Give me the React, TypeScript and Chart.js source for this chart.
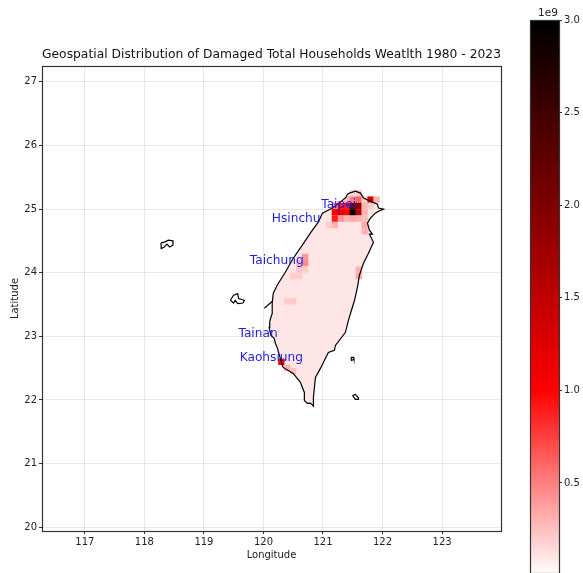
import React, { useEffect, useRef } from "react";
import { Chart, registerables } from "chart.js";

Chart.register(...registerables);

const FONT = "'DejaVu Sans', sans-serif";

const coastLon = [121.444, 121.545, 121.63, 121.68, 121.83, 121.915, 121.932, 122.016, 121.932, 121.88, 121.797, 121.747, 121.78, 121.83, 121.78, 121.848, 121.764, 121.68, 121.612, 121.579, 121.53, 121.478, 121.427, 121.377, 121.209, 121.192, 121.09, 120.957, 120.873, 120.839, 120.839, 120.788, 120.738, 120.687, 120.687, 120.62, 120.5, 120.33, 120.283, 120.23, 120.2, 120.18, 120.125, 120.095, 120.105, 120.125, 120.147, 120.147, 120.165, 120.23, 120.367, 120.5, 120.653, 120.787, 120.92, 120.99, 121.158, 121.29, 121.39, 121.41, 121.444];
const coastLat = [25.252, 25.283, 25.252, 25.173, 25.11, 25.079, 25.016, 25.0, 24.968, 24.937, 24.858, 24.78, 24.669, 24.606, 24.606, 24.48, 24.307, 24.15, 23.961, 23.772, 23.567, 23.41, 23.252, 23.063, 22.858, 22.78, 22.748, 22.496, 22.354, 22.039, 21.903, 21.95, 21.945, 21.992, 22.118, 22.276, 22.417, 22.512, 22.654, 22.827, 22.89, 22.969, 23.016, 23.142, 23.23, 23.3, 23.36, 23.52, 23.677, 23.803, 24.008, 24.228, 24.433, 24.622, 24.795, 24.937, 25.016, 25.11, 25.189, 25.236, 25.252];

const kinmenLon = [118.278, 118.35, 118.4, 118.48, 118.48, 118.423, 118.379, 118.333, 118.283, 118.278];
const kinmenLat = [24.469, 24.485, 24.512, 24.501, 24.433, 24.406, 24.449, 24.406, 24.381, 24.469];
const penghuLon = [119.443, 119.499, 119.566, 119.583, 119.679, 119.657, 119.566, 119.527, 119.499, 119.443];
const penghuLat = [23.567, 23.646, 23.672, 23.594, 23.567, 23.524, 23.515, 23.567, 23.524, 23.567];
const spurLon = [120.015, 120.149];
const spurLat = [23.441, 23.551];
const greenLon = [121.47, 121.512, 121.52, 121.478, 121.47];
const greenLat = [22.669, 22.669, 22.638, 22.622, 22.669];
const lanyuLon = [121.495, 121.545, 121.596, 121.596, 121.545, 121.495];
const lanyuLat = [22.071, 22.087, 22.031, 22.008, 22.008, 22.071];

// Damaged wealth per 0.1 degree cell, in units of 1e9
const heatLon = [121.5, 121.6,
  121.4, 121.5, 121.6, 121.7, 121.8, 121.9,
  121.2, 121.3, 121.4, 121.5, 121.6, 121.7, 121.8,
  121.2, 121.3, 121.4, 121.5, 121.6, 121.7,
  121.2, 121.3, 121.4, 121.5, 121.6, 121.7,
  121.1, 121.2, 121.7, 121.7,
  120.7, 120.7, 120.6, 120.6, 120.7, 120.5, 120.6,
  121.6, 121.6, 120.5, 120.4,
  120.3, 120.4, 120.5];
const heatLat = [25.25, 25.25,
  25.15, 25.15, 25.15, 25.15, 25.15, 25.15,
  25.05, 25.05, 25.05, 25.05, 25.05, 25.05, 25.05,
  24.95, 24.95, 24.95, 24.95, 24.95, 24.95,
  24.85, 24.85, 24.85, 24.85, 24.85, 24.85,
  24.75, 24.75, 24.75, 24.65,
  24.25, 24.15, 24.15, 24.05, 24.05, 23.95, 23.95,
  24.05, 23.95, 23.55, 23.55,
  22.6, 22.5, 22.45];
const heatVal = [0.15, 0.2,
  0.25, 0.5, 0.6, 0.2, 1.3, 0.3,
  0.5, 0.9, 0.9, 2.2, 1.9, 0.3, 0.2,
  1.1, 1.2, 1.0, 3.0, 1.6, 0.3,
  0.9, 0.4, 0.3, 0.35, 0.3, 0.25,
  0.2, 0.3, 0.35, 0.3,
  0.4, 0.45, 0.25, 0.22, 0.2, 0.2, 0.2,
  0.3, 0.35, 0.22, 0.2,
  1.0, 0.3, 0.25];
const baseValue = 0.1;

const cityNames = ["Taipei", "Hsinchu", "Taichung", "Tainan", "Kaohsiung"];
const cityLon = [120.97, 120.14, 119.77, 119.58, 119.6];
const cityLat = [25.07, 24.85, 24.19, 23.04, 22.66];

const colorStops = [0, 1, 3];
const colorValues = [[255, 255, 255], [255, 0, 0], [0, 0, 0]];
const colorbarTicks = [0.5, 1, 1.5, 2, 2.5, 3];

const titleText = "Geospatial Distribution of Damaged Total Households Weatlth 1980 - 2023";

function cmap(v: number): string {
  for (let i = 0; i < colorStops.length - 1; i++) {
    if (v <= colorStops[i + 1]) {
      const t = (v - colorStops[i]) / (colorStops[i + 1] - colorStops[i]);
      const c = colorValues[i].map((a, k) => Math.round(a + (colorValues[i + 1][k] - a) * t));
      return `rgb(${c[0]},${c[1]},${c[2]})`;
    }
  }
  return "rgb(0,0,0)";
}

const pts = (xs: number[], ys: number[]) => xs.map((x, i) => ({ x, y: ys[i] }));

const outline = (xs: number[], ys: number[]) => ({
  type: "scatter" as const,
  data: pts(xs, ys),
  showLine: true,
  borderColor: "#000",
  borderWidth: 1.2,
  pointRadius: 0,
  fill: false,
  order: 0,
});

const frame = (color: string) => ({
  id: "frame",
  afterDraw(c: any) {
    const a = c.chartArea;
    c.ctx.save();
    c.ctx.strokeStyle = color;
    c.ctx.lineWidth = 1.2;
    c.ctx.strokeRect(Math.round(a.left) + 0.5, Math.round(a.top) + 0.5, Math.round(a.width), Math.round(a.height));
    c.ctx.restore();
  },
});

const cityText = {
  id: "cityText",
  afterDraw(c: any) {
    const { ctx, scales } = c;
    ctx.save();
    ctx.font = `12.2px ${FONT}`;
    ctx.fillStyle = "#1c1ce6";
    ctx.textBaseline = "middle";
    cityNames.forEach((n, i) => {
      ctx.fillText(n, scales.x.getPixelForValue(cityLon[i]), scales.y.getPixelForValue(cityLat[i]));
    });
    ctx.restore();
  },
};

const exponentText = {
  id: "exponentText",
  afterDraw(c: any) {
    const { ctx, chartArea } = c;
    ctx.save();
    ctx.font = `10.5px ${FONT}`;
    ctx.fillStyle = "#222";
    ctx.textAlign = "center";
    ctx.textBaseline = "bottom";
    ctx.fillText("1e9", chartArea.right - 11, chartArea.top - 1);
    ctx.restore();
  },
};

export default function App() {
  const mainRef = useRef<HTMLCanvasElement>(null);
  const barRef = useRef<HTMLCanvasElement>(null);

  useEffect(() => {
    const axisFont = { family: FONT, size: 10 };
    const gridColor = "rgba(176,176,176,0.3)";
    const main = new Chart(mainRef.current!, {
      type: "scatter",
      data: {
        datasets: [
          outline(coastLon, coastLat),
          outline(kinmenLon, kinmenLat),
          outline(penghuLon, penghuLat),
          outline(spurLon, spurLat),
          outline(greenLon, greenLat),
          outline(lanyuLon, lanyuLat),
          {
            data: pts(heatLon, heatLat),
            pointStyle: "rect",
            pointRadius: 4.5,
            pointBorderWidth: 0,
            pointBackgroundColor: heatVal.map(cmap),
            order: 1,
          },
          {
            data: pts(coastLon, coastLat),
            showLine: true,
            borderWidth: 0,
            pointRadius: 0,
            fill: "shape",
            backgroundColor: cmap(baseValue),
            order: 2,
          },
        ] as any,
      },
      options: {
        responsive: false,
        animation: false,
        events: [],
        layout: { padding: { left: 9, right: 82, top: 0, bottom: 12 } },
        plugins: {
          legend: { display: false },
          tooltip: { enabled: false },
          title: {
            display: true,
            text: titleText,
            fullSize: false,
            color: "#111",
            font: { family: FONT, size: 13, weight: "normal" },
            padding: { top: 47, bottom: 3.4 },
          },
        },
        scales: {
          x: {
            type: "linear",
            min: 116.28,
            max: 123.99,
            afterFit(s: any) { s.height = 30; },
            title: { display: true, text: "Longitude", color: "#222", font: axisFont, padding: 0 },
            ticks: { stepSize: 1, includeBounds: false, color: "#222", font: axisFont, maxRotation: 0, padding: 2 },
            grid: { color: gridColor, tickColor: "#333", tickLength: 3 },
            border: { color: "#333" },
          },
          y: {
            type: "linear",
            min: 19.94,
            max: 27.25,
            afterFit(s: any) { s.width = 33; },
            title: { display: true, text: "Latitude", color: "#222", font: axisFont, padding: 0 },
            ticks: { stepSize: 1, includeBounds: false, color: "#222", font: axisFont, padding: 2 },
            grid: { color: gridColor, tickColor: "#333", tickLength: 3 },
            border: { color: "#333" },
          },
        },
      } as any,
      plugins: [frame("#333"), cityText],
    });

    const bar = new Chart(barRef.current!, {
      type: "bar",
      data: {
        labels: [""],
        datasets: [
          {
            data: [[0.014, 3]],
            barPercentage: 1,
            categoryPercentage: 1,
            backgroundColor(ctx: any) {
              const area = ctx.chart.chartArea;
              const y = ctx.chart.scales.y;
              if (!area) return "#f00";
              const g = ctx.chart.ctx.createLinearGradient(0, y.getPixelForValue(0), 0, y.getPixelForValue(3));
              colorStops.forEach((s) => g.addColorStop(s / 3, cmap(s)));
              return g;
            },
          },
        ] as any,
      },
      options: {
        responsive: false,
        animation: false,
        events: [],
        layout: { padding: { left: 530, right: 0, top: 20, bottom: 0 } },
        plugins: { legend: { display: false }, tooltip: { enabled: false } },
        scales: {
          x: { display: false },
          y: {
            position: "right",
            min: 0.014,
            max: 3,
            afterFit(s: any) { s.width = 24; },
            afterBuildTicks(s: any) { s.ticks = colorbarTicks.map((value) => ({ value })); },
            ticks: {
              color: "#222",
              font: axisFont,
              padding: 2,
              callback: (v: any) => Number(v).toFixed(1),
            },
            grid: { drawOnChartArea: false, tickColor: "#333", tickLength: 3 },
            border: { color: "#333" },
          },
        },
      } as any,
      plugins: [frame("#333"), exponentText],
    });

    return () => {
      main.destroy();
      bar.destroy();
    };
  }, []);

  const style: React.CSSProperties = { position: "absolute", left: 0, top: 0, display: "block", filter: "blur(0.35px)" };
  return (
    <div style={{ position: "fixed", left: 0, top: 0, width: 583, height: 573, overflow: "hidden", background: "#fff" }}>
      <canvas ref={mainRef} width={583} height={573} style={style} />
      <canvas ref={barRef} width={583} height={581} style={style} />
    </div>
  );
}
